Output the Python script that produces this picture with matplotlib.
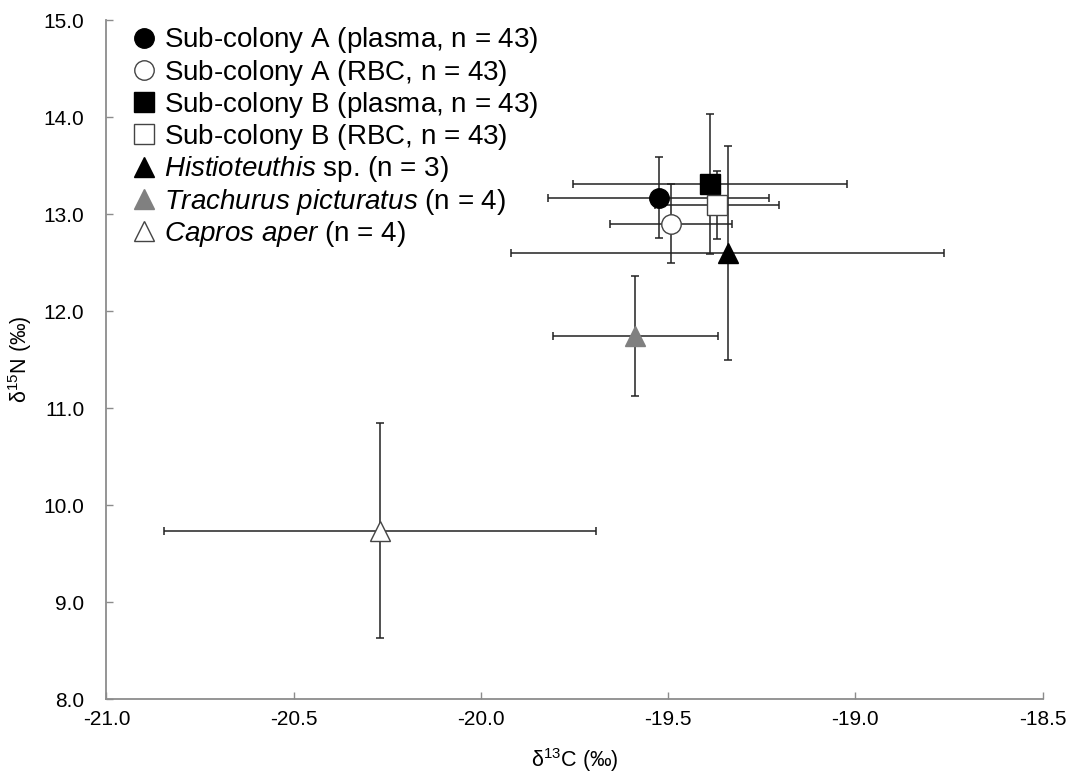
import matplotlib
matplotlib.use('Agg')
import matplotlib.pyplot as plt
from matplotlib.lines import Line2D

plt.rcParams['font.family'] = ['Liberation Sans', 'DejaVu Sans']
plt.rcParams['mathtext.fontset'] = 'custom'
plt.rcParams['mathtext.rm'] = 'Liberation Sans'
plt.rcParams['mathtext.it'] = 'Liberation Sans:italic'

# Data: mean +/- SD of d13C and d15N
# (trailing thin space keeps every legend row in mathtext so rows line up)
labels = [r'Sub-colony A (plasma, n = 43)$\,$',
          r'Sub-colony A (RBC, n = 43)$\,$',
          r'Sub-colony B (plasma, n = 43)$\,$',
          r'Sub-colony B (RBC, n = 43)$\,$',
          r'$\it{Histioteuthis}$ sp. (n = 3)',
          r'$\it{Trachurus\ picturatus}$ (n = 4)',
          r'$\it{Capros\ aper}$ (n = 4)']
d13c = [-19.525, -19.492, -19.389, -19.369, -19.341, -19.588, -20.270]
d15n = [13.17, 12.90, 13.31, 13.09, 12.595, 11.742, 9.735]
d13c_sd = [0.295, 0.164, 0.366, 0.166, 0.578, 0.22, 0.577]
d15n_sd = [0.415, 0.41, 0.72, 0.35, 1.105, 0.615, 1.107]

markers = ['o', 'o', 's', 's', '^', '^', '^']
faces = ['black', 'white', 'black', 'white', 'black', '#808080', 'white']
edges = ['black', '#444444', 'black', '#444444', 'black', '#808080', '#444444']

fig = plt.figure(figsize=(10.72, 7.73), dpi=100)
ax = fig.add_axes([0.0993, 0.0957, 0.8732, 0.8784])

# error bars first, then markers on top
for i in range(len(d13c)):
  ax.errorbar(d13c[i], d15n[i], xerr=d13c_sd[i], yerr=d15n_sd[i], fmt='none',
              ecolor='#222222', elinewidth=1.1, capsize=2.7, capthick=1.1, zorder=2)
for i in range(len(d13c)):
  ax.plot(d13c[i], d15n[i], marker=markers[i], markersize=14, linestyle='none',
          markerfacecolor=faces[i], markeredgecolor=edges[i], markeredgewidth=1.0, zorder=3)

ax.set_xlim(-21.0, -18.5)
ax.set_ylim(8.0, 15.0)
ax.set_xticks([-21.0, -20.5, -20.0, -19.5, -19.0, -18.5])
ax.set_yticks([8, 9, 10, 11, 12, 13, 14, 15])
ax.set_xticklabels(['-21.0', '-20.5', '-20.0', '-19.5', '-19.0', '-18.5'])
ax.set_yticklabels(['8.0', '9.0', '10.0', '11.0', '12.0', '13.0', '14.0', '15.0'])

for s in ['top', 'right']:
  ax.spines[s].set_visible(False)
for s in ['left', 'bottom']:
  ax.spines[s].set_color('#8c8c8c')
  ax.spines[s].set_linewidth(1.3)
ax.tick_params(axis='both', direction='in', length=5, width=1, color='#8c8c8c', labelsize=15)
ax.tick_params(axis='y', pad=16)
ax.tick_params(axis='x', pad=8)

ax.set_xlabel(r'δ$^{\mathrm{13}}$C (‰)', fontsize=15.5, labelpad=12)
ax.set_ylabel(r'δ$^{\mathrm{15}}$N (‰)', fontsize=15.5, labelpad=7)

handles = []
for i in range(len(labels)):
  handles.append(Line2D([], [], marker=markers[i], linestyle='none', markersize=14,
                        markerfacecolor=faces[i], markeredgecolor=edges[i], markeredgewidth=1.0))
ax.legend(handles, labels, loc='upper left', bbox_to_anchor=(0.028, 0.992), frameon=False,
          fontsize=20, handlelength=0.8, handletextpad=0.32, labelspacing=0.08,
          borderaxespad=0.0, borderpad=0.0)

fig.savefig('out.png', dpi=100)
